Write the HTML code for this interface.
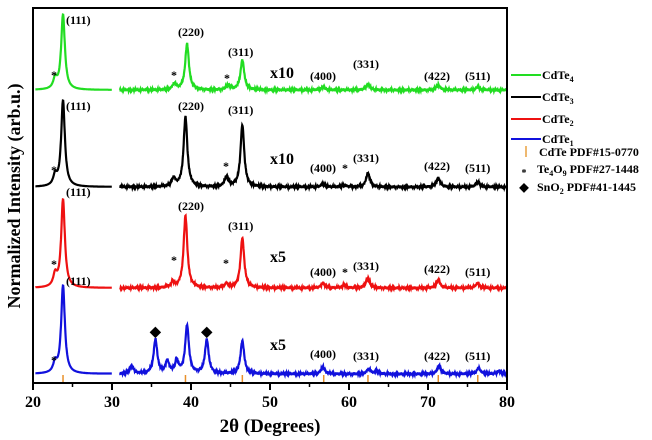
<!DOCTYPE html>
<html><head><meta charset="utf-8"><style>
html,body{margin:0;padding:0;background:#fff}
svg{display:block;font-family:"Liberation Serif",serif;font-weight:bold}
</style></head><body>
<svg id="c" width="652" height="440" viewBox="0 0 652 440">
<g id="plot"></g>
<rect x="33" y="8" width="474" height="375" fill="none" stroke="#000" stroke-width="2"/>
<g id="axis"></g>
<text x="270" y="432" text-anchor="middle" font-size="19">2θ (Degrees)</text>
<text transform="translate(20,196) rotate(-90)" text-anchor="middle" font-size="18">Normalized Intensity (arb.u.)</text>
<g id="legend" font-size="12"></g>
</svg>
<script>
const xTicks=[20,30,40,50,60,70,80];
const seriesNames=["CdTe4","CdTe3","CdTe2","CdTe1"];
const seriesColors=["#22dd22","#000000","#ee1111","#1111dd"];
const baselines=[90,187,288,374];
const peaksGreen=[[22.8,10],[23.8,75],[37.9,6],[39.5,46],[44.7,5],[46.5,30],[56.7,3],[62.4,6],[71.3,5],[76.3,3]];
const peaksBlack=[[22.8,10],[23.8,86],[37.8,8],[39.3,70],[44.5,10],[46.5,62],[56.7,3],[59.4,2],[62.4,14],[71.3,9],[76.3,5]];
const peaksRed=[[22.8,12],[23.8,88],[37.7,5],[39.3,72],[44.5,4],[46.5,50],[56.7,5],[59.4,3],[62.4,10],[71.3,8],[76.3,5]];
const peaksBlue=[[22.8,10],[23.8,88],[32.5,8],[35.5,34],[37.0,12],[38.2,12],[39.5,48],[42.0,34],[46.5,33],[56.7,7],[62.5,5],[63.5,3],[71.4,8],[76.4,6],[79,3]];
const allPeaks=[peaksGreen,peaksBlack,peaksRed,peaksBlue];
const refLines=[23.8,39.3,46.5,56.8,62.4,71.3,76.3];
const xMin=20,xMax=80;
const X=v=>33+(v-xMin)/(xMax-xMin)*474;
const NS="http://www.w3.org/2000/svg";
function mk(t,a,p){const e=document.createElementNS(NS,t);for(const k in a)e.setAttribute(k,a[k]);p.appendChild(e);return e;}
const plot=document.getElementById('plot'),axis=document.getElementById('axis'),leg=document.getElementById('legend');
function prof(x,peaks){let s=0;for(const [c,h] of peaks){const w=0.28;s+=h/(1+((x-c)/w)**2);}return s;}
allPeaks.forEach((peaks,i)=>{
  let d='';
  [[20.3,30],[31,79.9]].forEach(([a,b])=>{
    let first=true;
    for(let x=a;x<=b;x+=0.04){
      const n=Math.sin(x*37.1+i)*0.7+Math.sin(x*91.3)*0.5;
      const y=baselines[i]-prof(x,peaks)-(x>31?n:0);
      d+=(first?'M':'L')+X(x).toFixed(1)+','+y.toFixed(1);first=false;
    }
  });
  const p=mk('path',{d:d,fill:'none',stroke:seriesColors[i],'stroke-width':2.2},plot);
  
  
});
refLines.forEach(v=>{const l=mk('line',{x1:X(v),x2:X(v),y1:375,y2:382,stroke:'#e8902a','stroke-width':1.5},plot);

});
xTicks.forEach((v,i)=>{
  mk('line',{x1:X(v),x2:X(v),y1:383,y2:390,stroke:'#000','stroke-width':2},axis);
  if(i<xTicks.length-1)mk('line',{x1:X(v+5),x2:X(v+5),y1:383,y2:387,stroke:'#000','stroke-width':1.5},axis);
  const t=mk('text',{x:X(v),y:407,'text-anchor':'middle','font-size':16},axis);t.textContent=v;
  
  
});
const labels=[
['(111)',66,24],['(220)',178,36],['(311)',228,56],['*',54,79],['*',174,79],['*',227,82],['x10',270,78],['(400)',310,80],['(331)',353,68],['(422)',424,80],['(511)',465,80],
['(111)',66,110],['(220)',178,110],['(311)',228,114],['*',54,174],['*',226,170],['x10',270,164],['(400)',310,172],['*',345,172],['(331)',353,162],['(422)',424,170],['(511)',465,172],
['(111)',66,196],['(220)',178,210],['(311)',228,230],['*',54,268],['*',174,264],['*',226,267],['x5',270,262],['(400)',310,276],['*',345,276],['(331)',353,270],['(422)',424,273],['(511)',465,276],
['(111)',66,285],['*',54,364],['x5',270,350],['(400)',310,358],['(331)',353,360],['(422)',424,360],['(511)',465,360]];
labels.forEach(([s,x,y])=>{const t=mk('text',{x:x,y:y,'text-anchor':s.length<2?'middle':'start','font-size':s.startsWith('x')?16:12},plot);t.textContent=s;

});
[[X(35.5),336],[X(42),336]].forEach(([x,y])=>{const t=mk('text',{x:x,y:y,'text-anchor':'middle','font-size':14},plot);t.textContent='◆';

});
const legY=[75,97,119,139];
seriesNames.forEach((n,i)=>{
  const g=mk('g',{},leg);
  
  
  mk('line',{x1:511,x2:541,y1:legY[i],y2:legY[i],stroke:seriesColors[i],'stroke-width':2},g);
  const t=mk('text',{x:542,y:legY[i]+4},g);t.innerHTML='CdTe<tspan font-size="8" dy="3">'+n.slice(4)+'</tspan>';
});
const r=[['CdTe PDF#15-0770',156],['Te<tspan font-size="8" dy="3">4</tspan><tspan dy="-3">O</tspan><tspan font-size="8" dy="3">9</tspan><tspan dy="-3"> PDF#27-1448</tspan>',173],['SnO<tspan font-size="8" dy="3">2</tspan><tspan dy="-3"> PDF#41-1445</tspan>',191]];
r.forEach(([s,y],i)=>{
  const g=mk('g',{},leg);
  
  
  if(i==0)mk('line',{x1:526,x2:526,y1:y-10,y2:y+1,stroke:'#e8a040','stroke-width':1.5},g);
  else {const m=mk('text',{x:524,y:y+(i==1?3:0),'text-anchor':'middle','font-size':i==1?10:12},g);m.textContent=i==1?'*':'◆';}
  const t=mk('text',{x:i==0?539:537,y:y},g);t.innerHTML=s;
});
</script>
</body></html>
